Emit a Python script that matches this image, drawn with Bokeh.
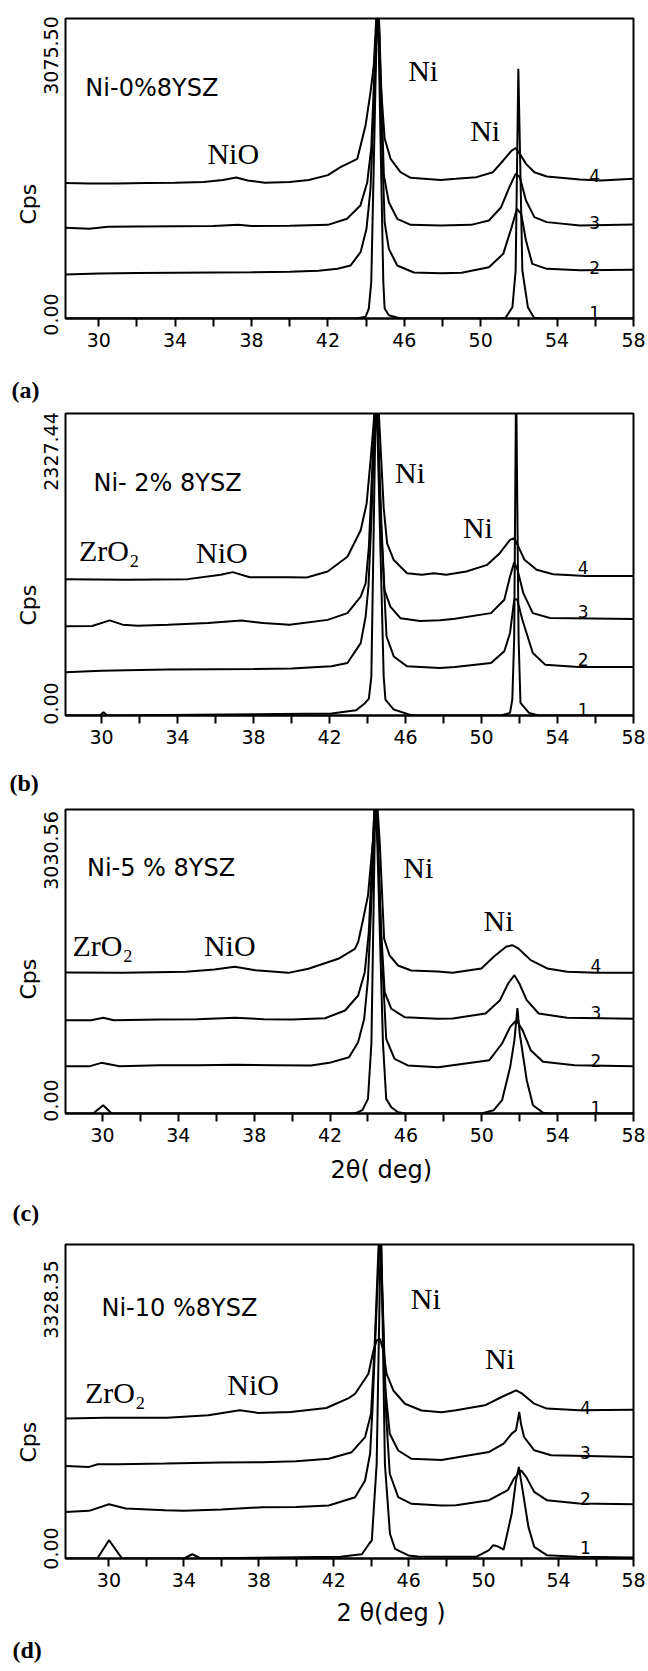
from bokeh.plotting import figure
from bokeh.models import Label, FixedTicker, Range1d, Title, CustomJSTickFormatter
from bokeh.layouts import column
from bokeh.embed import file_html
from bokeh.resources import INLINE

# ---------------- data ----------------
x_major_ticks = [30, 34, 38, 42, 46, 50, 54, 58]
x_minor_ticks = [32, 36, 40, 44, 48, 52, 56]
y_max = [3075.50, 2327.44, 3030.56, 3328.35]
y_tick_top = ["3075.50", "2327.44", "3030.56", "3328.35"]
y_tick_bottom = ["0.00", "0.00", "0.00", "0.00"]
samples = ["Ni-0%8YSZ", "Ni- 2% 8YSZ", "Ni-5 % 8YSZ", "Ni-10 %8YSZ"]
panel_tags = ["(a)", "(b)", "(c)", "(d)"]
curve_ids = ["1", "2", "3", "4"]
y_title = "Cps"
x_titles = [None, None, "2θ( deg)", "2 θ(deg )"]

# panel (a)  Ni-0%8YSZ
a1_x = [28.26, 43.5, 43.97, 44.14, 44.27, 44.6, 44.9, 44.97, 45.19, 45.8, 51.0, 51.3, 51.66, 51.83, 51.97, 52.18, 52.47, 52.79, 53.2, 58.0]
a1_y = [0, 0, 17, 102, 376, 3400, 376, 102, 34, 0, 0, 8, 116, 492, 2560, 492, 116, 8, 0, 0]
a2_x = [28.26, 30, 32, 34, 36, 38, 40, 41.5, 42.5, 43.18, 43.71, 44.02, 44.23, 44.45, 44.62, 44.8, 44.97, 45.19, 45.63, 46.5, 47.9, 49.0, 50.43, 51.18, 51.62, 51.9, 52.12, 52.37, 52.7, 53.46, 55.2, 58]
a2_y = [450, 462, 466, 470, 472, 474, 478, 490, 510, 543, 680, 919, 1332, 2400, 3400, 2000, 987, 714, 543, 472, 465, 470, 526, 663, 936, 1124, 1073, 800, 560, 509, 495, 499]
a3_x = [28.26, 29.5, 30.5, 32, 34, 36, 37.3, 38, 40, 42, 43.0, 43.7, 44.06, 44.27, 44.45, 44.62, 44.8, 44.93, 45.19, 45.63, 46.33, 47.9, 49.5, 50.43, 51.07, 51.5, 51.83, 52.05, 52.37, 52.81, 53.46, 55.2, 58]
a3_y = [930, 920, 940, 942, 945, 948, 960, 948, 950, 960, 1022, 1158, 1397, 1750, 2600, 3400, 2300, 1466, 1192, 1022, 960, 953, 960, 1005, 1141, 1346, 1483, 1449, 1210, 1039, 988, 953, 964]
a4_x = [28.26, 29.5, 31, 32.5, 34, 35.5, 36.5, 37.2, 37.8, 38.7, 40, 41.0, 42.0, 42.66, 43.54, 43.97, 44.23, 44.4, 44.62, 44.76, 44.97, 45.28, 45.8, 46.33, 47.9, 48.69, 49.78, 50.64, 51.18, 51.62, 51.83, 52.05, 52.37, 52.81, 53.46, 55.19, 56.3, 58]
a4_y = [1390, 1385, 1385, 1390, 1392, 1400, 1420, 1445, 1415, 1392, 1400, 1420, 1470, 1551, 1637, 1978, 2320, 2593, 3400, 2422, 1845, 1637, 1500, 1442, 1421, 1432, 1449, 1500, 1620, 1722, 1746, 1688, 1585, 1500, 1456, 1425, 1415, 1432]

# panel (b)  Ni-2% 8YSZ
b1_x = [28.1, 29.9, 30.1, 30.3, 42.1, 43.4, 43.83, 44.07, 44.2, 44.45, 44.85, 44.94, 45.38, 46.25, 46.5, 51.0, 51.5, 51.62, 51.72, 51.82, 51.95, 52.05, 52.5, 53.0, 58]
b1_y = [0, 0, 25, 0, 15, 40, 90, 130, 300, 2600, 300, 123, 46, 5, 0, 0, 20, 123, 600, 2600, 600, 97, 20, 0, 0]
b2_x = [28.1, 30, 32, 33.5, 36, 38, 40, 42.1, 42.94, 43.64, 43.9, 44.05, 44.2, 44.45, 44.7, 45.0, 45.38, 46.08, 47.8, 48.6, 50.5, 51.2, 51.5, 51.72, 51.87, 52.15, 52.7, 53.35, 55.1, 58]
b2_y = [333, 345, 350, 354, 356, 358, 362, 379, 405, 558, 763, 1000, 1500, 2600, 1500, 609, 455, 379, 366, 374, 405, 495, 636, 892, 897, 738, 482, 392, 374, 374]
b3_x = [28.1, 29.5, 30.43, 31.1, 31.9, 33.5, 35.6, 37.35, 38.5, 39.9, 41.9, 42.94, 43.64, 43.9, 44.07, 44.45, 44.75, 44.89, 45.2, 45.73, 46.77, 47.82, 48.6, 50.5, 51.2, 51.5, 51.72, 51.9, 52.2, 52.7, 53.6, 58]
b3_y = [687, 690, 733, 700, 692, 700, 712, 733, 712, 700, 737, 789, 916, 1019, 1300, 2600, 1400, 968, 839, 750, 728, 735, 745, 789, 892, 1071, 1180, 1120, 943, 789, 751, 743]
b4_x = [28.1, 31.3, 34.54, 36.27, 36.9, 37.8, 39.9, 40.8, 41.9, 42.94, 43.64, 43.95, 44.16, 44.33, 44.5, 44.85, 45.03, 45.38, 46.08, 46.86, 47.5, 48.15, 49.2, 50.3, 50.96, 51.5, 51.72, 51.94, 52.26, 52.9, 53.77, 55.5, 58]
b4_y = [1051, 1046, 1051, 1084, 1105, 1066, 1066, 1063, 1110, 1223, 1428, 1633, 1966, 2273, 2600, 1600, 1326, 1198, 1096, 1084, 1097, 1084, 1110, 1161, 1251, 1353, 1366, 1302, 1200, 1123, 1089, 1076, 1076]

# panel (c)  Ni-5% 8YSZ
c1_x = [28.05, 29.5, 30.04, 30.48, 43.26, 43.48, 43.7, 44.0, 44.18, 44.4, 44.79, 44.96, 45.23, 45.58, 46.0, 49.98, 50.63, 51.07, 51.5, 51.72, 51.88, 52.0, 52.37, 52.7, 53.23, 53.6, 58]
c1_y = [0, 0, 83, 0, 0, 13, 33, 146, 700, 3300, 700, 146, 63, 13, 0, 0, 33, 133, 465, 731, 1050, 798, 332, 83, 7, 0, 0]
c2_x = [28.05, 29.3, 29.94, 30.9, 33, 35, 37, 39, 41.0, 41.96, 43.0, 43.48, 43.8, 44.0, 44.2, 44.42, 44.7, 44.96, 45.4, 46.1, 47.7, 48.47, 50.4, 51.07, 51.5, 51.83, 52.15, 52.58, 53.23, 54.9, 58]
c2_y = [472, 470, 505, 472, 480, 482, 485, 482, 479, 505, 561, 711, 944, 1343, 2200, 3300, 1700, 745, 545, 479, 462, 482, 532, 698, 864, 930, 831, 631, 515, 482, 472]
c3_x = [28.05, 29.4, 30.04, 30.6, 33, 35, 36.98, 38.5, 40, 41.74, 42.79, 43.48, 43.83, 44.04, 44.4, 44.7, 44.88, 45.23, 45.93, 47.67, 48.47, 50.2, 50.96, 51.39, 51.72, 51.98, 52.37, 53.0, 54.5, 58]
c3_y = [930, 930, 954, 930, 937, 940, 954, 940, 937, 950, 1027, 1176, 1409, 1800, 3300, 1800, 1209, 1044, 960, 944, 947, 997, 1130, 1296, 1379, 1296, 1130, 997, 954, 944]
c4_x = [28.05, 31.1, 34.4, 35.9, 36.98, 38.06, 39.8, 40.86, 42.43, 43.31, 43.48, 43.75, 44.0, 44.27, 44.42, 44.62, 44.85, 45.14, 45.58, 46.28, 47.67, 48.47, 49.98, 50.63, 51.28, 51.6, 51.93, 52.58, 53.45, 54.5, 56.05, 58]
c4_y = [1406, 1402, 1412, 1436, 1462, 1429, 1402, 1443, 1542, 1642, 1708, 1941, 2173, 2739, 3300, 2700, 1742, 1575, 1476, 1426, 1416, 1402, 1446, 1562, 1662, 1678, 1645, 1529, 1446, 1412, 1402, 1402]

# panel (d)  Ni-10% 8YSZ
d1_x = [27.68, 29.38, 30.0, 30.7, 34.0, 34.45, 34.9, 42.37, 43.25, 43.5, 43.9, 44.03, 44.29, 44.52, 44.73, 45.0, 45.27, 45.98, 46.5, 49.6, 50.29, 50.51, 50.73, 51.07, 51.5, 51.73, 51.88, 52.1, 52.39, 52.7, 53.37, 55, 58]
d1_y = [0, 0, 194, 0, 0, 45, 0, 18, 40, 45, 159, 191, 1000, 3600, 1000, 262, 103, 32, 21, 18, 88, 141, 130, 95, 477, 830, 971, 700, 335, 124, 35, 18, 11]
d2_x = [27.68, 28.94, 30.0, 30.9, 33, 34.0, 36, 38.18, 40, 41.73, 43.14, 43.67, 43.94, 44.07, 44.48, 44.8, 44.99, 45.44, 46.15, 47.75, 48.53, 50.29, 51.29, 51.62, 52.0, 52.27, 52.7, 53.37, 55.1, 58]
d2_y = [494, 505, 575, 530, 512, 505, 520, 544, 545, 562, 650, 827, 1110, 1600, 3600, 1500, 898, 650, 580, 562, 565, 618, 724, 847, 935, 865, 706, 618, 582, 575]
d3_x = [27.68, 28.94, 29.4, 30.5, 33, 36, 38.18, 40, 41.73, 42.96, 43.67, 43.99, 44.17, 44.45, 44.75, 44.99, 45.44, 46.15, 47.75, 48.53, 50.29, 51.07, 51.5, 51.73, 51.9, 52.0, 52.16, 52.7, 53.6, 58]
d3_y = [981, 971, 999, 1000, 1006, 1017, 1021, 1030, 1057, 1127, 1286, 1534, 2200, 3600, 1800, 1322, 1145, 1057, 1045, 1070, 1130, 1218, 1324, 1359, 1553, 1420, 1288, 1147, 1094, 1077]
d4_x = [27.68, 29.8, 33.1, 35.3, 36.98, 37.97, 39.7, 41.6, 42.8, 43.14, 43.85, 44.12, 44.29, 44.47, 44.65, 44.82, 45.18, 45.8, 46.68, 47.75, 48.53, 50.07, 50.96, 51.73, 52.06, 52.7, 53.37, 55.1, 58]
d4_y = [1483, 1493, 1493, 1518, 1571, 1543, 1553, 1595, 1700, 1746, 1958, 2205, 2311, 2329, 2200, 1958, 1781, 1640, 1569, 1551, 1571, 1624, 1712, 1783, 1747, 1641, 1589, 1571, 1578]

curves = [
    [(a1_x, a1_y), (a2_x, a2_y), (a3_x, a3_y), (a4_x, a4_y)],
    [(b1_x, b1_y), (b2_x, b2_y), (b3_x, b3_y), (b4_x, b4_y)],
    [(c1_x, c1_y), (c2_x, c2_y), (c3_x, c3_y), (c4_x, c4_y)],
    [(d1_x, d1_y), (d2_x, d2_y), (d3_x, d3_y), (d4_x, d4_y)],
]

# ---------------- layout / annotation placement (pixels) ----------------
cfg = [
    dict(h=362, top=18, bottom=44, left=65, right=15, fh=300,
         ytop_px=37, ybot_px=4, cps_off=94,
         sample=(29.3, 2358), ni1=(46.2, 2542), ni2=(49.45, 1927), nio=(35.69, 1691), zro=None,
         num_x=55.68, num_y=[61, 523, 984, 1466]),
    dict(h=390, top=51, bottom=37, left=63, right=13, fh=302,
         ytop_px=38, ybot_px=12, cps_off=90,
         sample=(29.57, 1789), ni1=(45.45, 1874), ni2=(49.02, 1452), nio=(34.97, 1260), zro=(28.81, 1275),
         num_x=55.07, num_y=[46, 430, 799, 1137]),
    dict(h=405, top=57, bottom=44, left=65, right=11, fh=304,
         ytop_px=41, ybot_px=13, cps_off=114,
         sample=(29.18, 2443), ni1=(45.86, 2453), ni2=(50.09, 1924), nio=(35.35, 1675), zro=(28.42, 1675),
         num_x=55.73, num_y=[60, 528, 1007, 1476]),
    dict(h=514, top=87, bottom=113, left=62, right=10, fh=314,
         ytop_px=55, ybot_px=10, cps_off=96,
         sample=(29.6, 2650), ni1=(46.11, 2756), ni2=(50.07, 2120), nio=(36.32, 1844), zro=(28.72, 1760),
         num_x=55.14, num_y=[117, 636, 1124, 1600]),
]
# (text, panel index that hosts it, side, align offset, standoff, kind)
outer_titles = [
    (panel_tags[0], 1, "above", -54, 22, "tag"),
    (panel_tags[1], 2, "above", -56, 28, "tag"),
    (panel_tags[2], 3, "above", -53, 38, "tag"),
    (x_titles[2], 3, "above", 265, -10, "xtitle"),
    (x_titles[3], 3, "below", 271, 14, "xtitle"),
    (panel_tags[3], 3, "below", -53, 2, "tag"),
]
x_start = [a1_x[0], b1_x[0], c1_x[0], d1_x[0]]

SANS = "DejaVu Sans"
SERIF = "Liberation Serif"

figs = []
for i in range(4):
    c = cfg[i]
    x0 = x_start[i]
    ym = y_max[i]
    p = figure(width=648, height=c["h"], x_range=Range1d(x0, 58), y_range=Range1d(0, ym),
               output_backend="svg", toolbar_location=None, title=None,
               min_border_left=c["left"], min_border_right=c["right"],
               min_border_top=c["top"], min_border_bottom=c["bottom"])
    p.background_fill_color = "white"
    p.border_fill_color = "white"
    p.outline_line_color = "black"
    p.outline_line_width = 2
    p.grid.visible = False

    # x axis
    ax = p.xaxis[0]
    ax.axis_label = None
    ax.ticker = FixedTicker(ticks=x_major_ticks, minor_ticks=x_minor_ticks)
    ax.axis_line_color = "black"
    ax.axis_line_width = 2
    ax.major_tick_line_width = 2
    ax.minor_tick_line_width = 2
    ax.major_tick_in = 0
    ax.major_tick_out = 8
    ax.minor_tick_in = 0
    ax.minor_tick_out = 8
    ax.major_label_standoff = 6
    ax.major_label_text_font = SANS
    ax.major_label_text_font_size = "19px"
    ax.major_label_text_color = "black"

    # y axis: only two rotated labels
    ya = p.yaxis[0]
    ya.axis_label = None
    yb = ym * c["ybot_px"] / c["fh"]
    yt = ym * (1 - c["ytop_px"] / c["fh"])
    ya.ticker = FixedTicker(ticks=[yb, yt], minor_ticks=[])
    ya.formatter = CustomJSTickFormatter(args=dict(labels=[y_tick_bottom[i], y_tick_top[i]]),
                                         code="return labels[index];")
    ya.major_label_orientation = "vertical"
    ya.major_tick_in = 0
    ya.major_tick_out = 0
    ya.minor_tick_in = 0
    ya.minor_tick_out = 0
    ya.axis_line_color = None
    ya.major_label_standoff = 8
    ya.major_label_text_font = SANS
    ya.major_label_text_font_size = "19px"
    ya.major_label_text_color = "black"

    p.add_layout(Title(text=y_title, align="left", offset=c["cps_off"], standoff=0,
                       text_font=SANS, text_font_size="22px", text_font_style="normal",
                       text_color="black"), "left")

    for (xs, ys) in curves[i]:
        p.line(xs, ys, line_color="black", line_width=2)

    # in-plot annotations
    sx, sy = c["sample"]
    p.add_layout(Label(x=sx, y=sy, text=samples[i], text_baseline="alphabetic",
                       text_font=SANS, text_font_size="24px", text_color="black"))
    for key in ("ni1", "ni2"):
        lx, ly = c[key]
        p.add_layout(Label(x=lx, y=ly, text="Ni", text_baseline="alphabetic",
                           text_font=SERIF, text_font_size="30px", text_color="black"))
    lx, ly = c["nio"]
    p.add_layout(Label(x=lx, y=ly, text="NiO", text_baseline="alphabetic",
                       text_font=SERIF, text_font_size="30px", text_color="black"))
    if c["zro"] is not None:
        lx, ly = c["zro"]
        p.add_layout(Label(x=lx, y=ly, text="ZrO₂", text_baseline="alphabetic",
                           text_font=SERIF, text_font_size="30px", text_color="black"))
    for k in range(4):
        p.add_layout(Label(x=c["num_x"], y=c["num_y"][k], text=curve_ids[k],
                           text_baseline="alphabetic", text_font=SANS,
                           text_font_size="17px", text_color="black"))
    figs.append(p)

# panel tags and x titles live in the side panels (outside the frames)
for text, host, side, off, st, kind in outer_titles:
    if kind == "tag":
        t = Title(text=text, align="left", offset=off, standoff=st,
                  text_font=SERIF, text_font_size="24px", text_font_style="bold",
                  text_color="black")
    else:
        t = Title(text=text, align="left", offset=off, standoff=st,
                  text_font=SANS, text_font_size="24px", text_font_style="normal",
                  text_color="black")
    figs[host].add_layout(t, side)

layout = column(*figs, spacing=0)
open("out.html", "w").write(file_html(layout, INLINE))
